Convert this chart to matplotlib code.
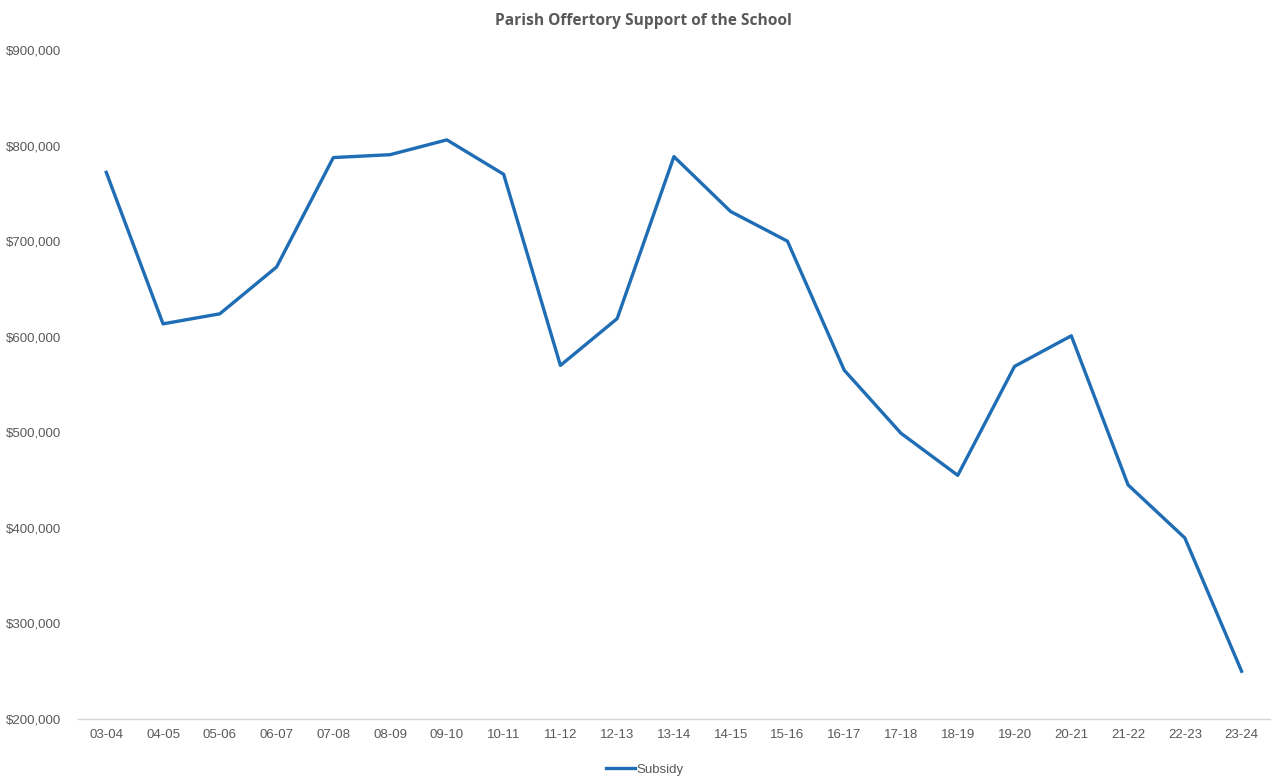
import matplotlib
matplotlib.use("Agg")
import matplotlib.pyplot as plt
from matplotlib.ticker import FuncFormatter

years = ["03-04", "04-05", "05-06", "06-07", "07-08", "08-09", "09-10", "10-11",
         "11-12", "12-13", "13-14", "14-15", "15-16", "16-17", "17-18", "18-19",
         "19-20", "20-21", "21-22", "22-23", "23-24"]
subsidy = [772000, 613500, 624000, 673000, 787500, 790500, 806000, 770000,
           570000, 619000, 788500, 731000, 700000, 565000, 499000, 455000,
           569000, 601000, 445000, 389500, 250000]
yticks = [200000, 300000, 400000, 500000, 600000, 700000, 800000, 900000]

gray = "#595959"
fig = plt.figure(figsize=(12.77, 7.77), dpi=100)
ax = fig.add_axes([0.061, 0.0746, 0.9335, 0.861])
x = list(range(len(years)))
ax.plot(x, subsidy, color="#1f6db5", lw=2.4, label="Subsidy", solid_joinstyle="round")
ax.set_xlim(-0.5, len(years) - 0.5)
ax.set_ylim(200000, 900000)
ax.set_yticks(yticks)
ax.yaxis.set_major_formatter(FuncFormatter(lambda v, p: f"${v:,.0f}"))
ax.set_xticks(x)
ax.set_xticklabels(years)
for s in ["top", "right", "left"]:
    ax.spines[s].set_visible(False)
ax.spines["bottom"].set_color("#d9d4d4")
ax.spines["bottom"].set_linewidth(1.0)
ax.tick_params(axis="both", length=0, colors=gray, labelsize=9.5)
ax.tick_params(axis="y", pad=12)
ax.tick_params(axis="x", pad=7)
for lab in ax.get_xticklabels() + ax.get_yticklabels():
    lab.set_fontfamily("Liberation Sans")

fig.text(0.504, 0.973, "Parish Offertory Support of the School", ha="center", va="center",
         fontsize=11.2, fontweight="bold", color=gray, family="Open Sans")
leg = fig.legend(loc="lower center", bbox_to_anchor=(0.505, -0.014), frameon=False,
                 prop={"family": "Liberation Sans", "size": 9.5}, handlelength=2.2,
                 handletextpad=0.1)
for t in leg.get_texts():
    t.set_color(gray)
fig.savefig("out.png", dpi=100)
